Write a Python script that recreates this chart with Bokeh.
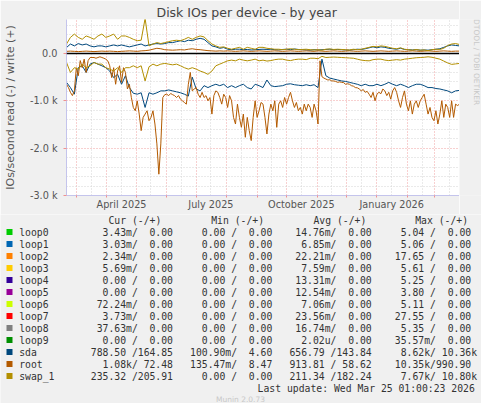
import re
import math
import pandas as pd
from bokeh.plotting import figure
from bokeh.layouts import column, row
from bokeh.models import FixedTicker, Span, Range1d
from bokeh.core.properties import value
from bokeh.embed import file_html
from bokeh.resources import INLINE

# ---------------- data ----------------
start = pd.Timestamp("2025-02-19")
end = pd.Timestamp("2026-03-26")
dates4 = pd.date_range(start, periods=101, freq="4D")   # sample times, 4-day step
dates2 = pd.date_range(start, periods=201, freq="2D")   # sample times, 2-day step

sda_read = [-610, -720, -860, -300, -260, -400, -225, -190, -225, -260,
            -300, -370, -510, -440, -650, -470, -720, -840, -860, -830,
            -1140, -830, -860, -830, -790, -790, -770, -790, -810, -830,
            -860, -900, -500, -750, -790, -680, -720, -680, -650, -680,
            -650, -720, -680, -720, -680, -650, -720, -750, -650, -680,
            -720, -560, -680, -700, -690, -680, -650, -640, -660, -670,
            -680, -660, -680, -660, -720, -120, -470, -520, -540, -560,
            -580, -590, -610, -630, -650, -680, -650, -680, -680, -650,
            -680, -650, -610, -650, -680, -650, -680, -720, -680, -650,
            -650, -680, -720, -720, -740, -750, -770, -790, -830, -790,
            -780]
sda_write = [125, 200, 160, 210, 180, 200, 160, 140, 160, 160,
             140, 160, 180, 160, 180, 160, 140, 160, 180, 200,
             160, 180, 200, 210, 200, 210, 230, 230, 250, 270,
             250, 280, 270, 300, 320, 300, 230, 160, 140, 110,
             125, 90, 80, 90, 90, 80, 85, 75, 80, 85,
             90, 85, 90, 80, 75, 85, 90, 80, 95, 85,
             80, 75, 70, 80, 75, 80, 85, 90, 80, 85,
             80, 75, 70, 80, 90, 85, 100, 120, 140, 120,
             140, 130, 110, 100, 90, 110, 85, 80, 75, 80,
             70, 75, 70, 80, 90, 100, 130, 160, 180, 170,
             160]
root_read = [-650, -720, -820, -890, -790, -300, -470, -150, -300, -120,
             -400, -150, -85, -85, -85, -100, -85, -70, -85, -100,
             -120, -155, -260, -510, -300, -650, -370, -260, -610, -300,
             -400, -750, -650, -930, -1140, -1210, -1000, -1280, -1630, -1350,
             -1280, -1210, -1420, -1350, -1210, -1490, -1910, -2550, -1910, -930,
             -870, -860, -890, -845, -870, -890, -930, -890, -965, -1000,
             -1035, -1070, -650, -400, -790, -750, -720, -860, -930, -820,
             -930, -890, -1000, -930, -1280, -890, -790, -820, -930, -1070,
             -860, -930, -1140, -890, -1000, -1350, -1490, -1070, -1350, -1560,
             -1280, -1770, -1350, -1630, -1840, -1350, -1000, -1350, -1210, -1035,
             -1070, -1350, -1700, -1280, -1070, -1210, -1000, -1560, -1070, -1000,
             -1140, -930, -1070, -930, -820, -1000, -1140, -1035, -1210, -1140,
             -1280, -1070, -1210, -1070, -1140, -1350, -1070, -1210, -1490, -155,
             -490, -520, -540, -560, -555, -580, -580, -590, -610, -600,
             -610, -615, -650, -640, -650, -680, -690, -720, -725, -750,
             -790, -760, -820, -800, -860, -930, -820, -1000, -860, -820,
             -850, -750, -790, -890, -820, -965, -790, -720, -820, -1000,
             -1140, -930, -790, -1070, -1210, -1000, -1280, -1070, -1000, -1140,
             -1000, -930, -860, -1070, -1280, -1140, -1350, -1420, -1210, -1490,
             -1280, -1000, -1350, -1070, -1140, -1350, -1000, -1350, -1070, -1100,
             -1070]
root_write = [45, 50, 45, 40, 45, 50, 45, 40, 45, 50,
              45, 50, 45, 40, 45, 50, 55, 50, 45, 55,
              60, 70, 90, 110, 100, 80, 75, 70, 75, 80,
              75, 90, 100, 85, 80, 70, 60, 55, 50, 55,
              50, 55, 50, 45, 50, 55, 50, 45, 50, 55,
              50, 45, 50, 55, 50, 45, 50, 55, 50, 45,
              50, 55, 50, 45, 55, 50, 45, 50, 55, 50,
              45, 50, 55, 50, 45, 50, 55, 50, 45, 50,
              55, 50, 45, 50, 55, 50, 45, 50, 55, 50,
              45, 50, 55, 50, 45, 50, 55, 50, 45, 50,
              50]
swap_read = [-190, -400, -300, -330, -225, -300, -260, -190, -225, -225,
             -300, -330, -370, -300, -400, -300, -300, -260, -300, -260,
             -580, -280, -225, -260, -225, -210, -225, -240, -225, -260,
             -300, -330, -300, -330, -370, -400, -440, -370, -260, -225,
             -190, -155, -140, -155, -120, -140, -155, -140, -120, -155,
             -140, -160, -150, -130, -120, -120, -140, -150, -130, -120,
             -120, -130, -100, -100, -110, -60, -85, -80, -75, -80,
             -85, -90, -95, -100, -120, -140, -150, -155, -130, -120,
             -120, -140, -150, -140, -130, -140, -120, -110, -100, -90,
             -85, -80, -70, -80, -100, -120, -160, -200, -230, -220,
             -210]
swap_write = [200, 340, 410, 340, 300, 370, 340, 300, 370, 410,
              340, 370, 410, 300, 370, 370, 340, 300, 270, 280,
              740, 160, 200, 230, 210, 230, 250, 270, 280, 270,
              300, 340, 300, 340, 370, 350, 270, 200, 160, 130,
              140, 110, 90, 110, 130, 90, 130, 110, 90, 130,
              130, 110, 100, 90, 90, 80, 90, 100, 90, 80,
              85, 90, 80, 75, 80, 70, 90, 95, 85, 90,
              85, 80, 75, 90, 80, 90, 110, 130, 150, 140,
              160, 150, 130, 110, 100, 120, 90, 80, 70, 85,
              70, 75, 60, 80, 90, 85, 110, 170, 200, 210,
              190]

names = ["loop0", "loop1", "loop2", "loop3", "loop4", "loop5", "loop6",
         "loop7", "loop8", "loop9", "sda", "root", "swap_1"]
colors = ["#00CC00", "#0066B3", "#FF8000", "#FFCC00", "#330099", "#990099",
          "#CCFF00", "#FF0000", "#808080", "#008F00", "#00487D", "#B35A00",
          "#B38F00"]
cur_vals = ["  3.43m/  0.00 ", "  3.03m/  0.00 ", "  2.34m/  0.00 ", "  5.69m/  0.00 ",
            "  0.00 /  0.00 ", "  0.00 /  0.00 ", " 72.24m/  0.00 ", "  3.73m/  0.00 ",
            " 37.63m/  0.00 ", "  0.00 /  0.00 ", "788.50 /164.85 ", "  1.08k/ 72.48 ",
            "235.32 /205.91 "]
min_vals = ["  0.00 /  0.00 "] * 10 + ["100.90m/  4.60 ", "135.47m/  8.47 ", "  0.00 /  0.00 "]
avg_vals = [" 14.76m/  0.00 ", "  6.85m/  0.00 ", " 22.21m/  0.00 ", "  7.59m/  0.00 ",
            " 13.31m/  0.00 ", " 12.54m/  0.00 ", "  7.06m/  0.00 ", " 23.56m/  0.00 ",
            " 16.74m/  0.00 ", "  2.02u/  0.00 ", "656.79 /143.84 ", "913.81 / 58.62 ",
            "211.34 /182.24 "]
max_vals = ["  5.04 /  0.00 ", "  5.06 /  0.00 ", " 17.65 /  0.00 ", "  5.61 /  0.00 ",
            "  5.25 /  0.00 ", "  3.80 /  0.00 ", "  5.11 /  0.00 ", " 27.55 /  0.00 ",
            "  5.35 /  0.00 ", " 35.57m/  0.00 ", "  8.62k/ 10.36k", " 10.35k/990.90 ",
            "  7.67k/ 10.80k"]
headers = ["Cur (-/+)", "Min (-/+)", "Avg (-/+)", "Max (-/+)"]
title_text = "Disk IOs per device - by year"
ylabel_text = "IOs/second read (-) / write (+)"
watermark_text = "RRDTOOL / TOBI OETIKER"
update_text = "Last update: Wed Mar 25 01:00:23 2026"
version_text = "Munin 2.0.73"

y_ticks = [0, -1000, -2000, -3000]
y_tick_labels = ["0.0", "-1.0 k", "-2.0 k", "-3.0 k"]
x_label_dates = ["2025-04-16", "2025-07-16", "2025-10-16", "2026-01-16"]
x_tick_labels = ["April 2025", "July 2025", "October 2025", "January 2026"]
month_starts = ["2025-03-01", "2025-04-01", "2025-05-01", "2025-06-01", "2025-07-01",
                "2025-08-01", "2025-09-01", "2025-10-01", "2025-11-01", "2025-12-01",
                "2026-01-01", "2026-02-01", "2026-03-01"]
mid_months = ["2025-03-16", "2025-04-16", "2025-05-16", "2025-06-16", "2025-07-16",
              "2025-08-16", "2025-09-16", "2025-10-16", "2025-11-16", "2025-12-16",
              "2026-01-16", "2026-02-16", "2026-03-16"]


def ms(d):
    return int(pd.Timestamp(d).value // 10**6)


BG = "#F0F0F0"
SANS = "DejaVu Sans"
MONO = "DejaVu Sans Mono"
CH = 214          # chart strip height
LH = 403 - CH     # legend strip height

# ---------------- chart ----------------
chart = figure(width=459, height=CH, x_axis_type="datetime",
               x_range=(start, end), y_range=(-3000, 718),
               output_backend="svg", toolbar_location=None,
               min_border_left=59, min_border_right=0,
               min_border_top=19, min_border_bottom=CH - 195)
chart.background_fill_color = "white"
chart.border_fill_color = BG
chart.outline_line_color = None

chart.title.text = title_text
chart.title.align = "left"
chart.title.offset = 90
chart.title.standoff = 0
chart.title.text_font = SANS
chart.title.text_font_size = "12.5px"
chart.title.text_font_style = "normal"
chart.title.text_color = "#444444"

chart.xaxis.ticker = FixedTicker(ticks=[ms(d) for d in x_label_dates],
                                 minor_ticks=[ms(d) for d in month_starts])
chart.xaxis.major_label_overrides = {ms(d): t for d, t in zip(x_label_dates, x_tick_labels)}
chart.xaxis.major_tick_line_color = None
chart.xaxis.major_tick_in = 0
chart.xaxis.major_tick_out = 0
chart.xaxis.minor_tick_line_color = "#F09090"
chart.xaxis.minor_tick_in = 0
chart.xaxis.minor_tick_out = 2
chart.xaxis.major_label_standoff = 1

minor_y = [v for v in range(-2800, 718, 200) if v % 1000 != 0]
chart.yaxis.ticker = FixedTicker(ticks=y_ticks, minor_ticks=minor_y)
chart.yaxis.major_label_overrides = {t: l for t, l in zip(y_ticks, y_tick_labels)}
chart.yaxis.major_tick_line_color = "#F09090"
chart.yaxis.major_tick_in = 0
chart.yaxis.major_tick_out = 3
chart.yaxis.minor_tick_line_color = None
chart.yaxis.major_label_standoff = 5
chart.yaxis.axis_label = ylabel_text
chart.yaxis.axis_label_standoff = 10
chart.yaxis.axis_label_text_font = SANS
chart.yaxis.axis_label_text_font_size = "11px"
chart.yaxis.axis_label_text_font_style = "normal"
chart.yaxis.axis_label_text_color = "#555555"

for ax in (chart.xaxis, chart.yaxis):
    ax.axis_line_color = "#C4C4EC"
    ax.major_label_text_font = SANS
    ax.major_label_text_font_size = "9.7px"
    ax.major_label_text_color = "#555555"

chart.xgrid.ticker = FixedTicker(ticks=[ms(d) for d in month_starts],
                                 minor_ticks=[ms(d) for d in mid_months])
for g in (chart.xgrid, chart.ygrid):
    g.grid_line_color = "#F0A0A0"
    g.grid_line_dash = "1 2"
    g.minor_grid_line_color = "#D4D4D4"
    g.minor_grid_line_dash = "1 2"

chart.line(dates4, sda_read, line_color="#00487D", line_width=1)
chart.line(dates4, sda_write, line_color="#00487D", line_width=1)
chart.line(dates2, root_read, line_color="#B35A00", line_width=1)
chart.line(dates4, root_write, line_color="#B35A00", line_width=1)
chart.line(dates4, swap_read, line_color="#B38F00", line_width=1)
chart.line(dates4, swap_write, line_color="#B38F00", line_width=1)
chart.add_layout(Span(location=0, dimension="width", line_color="black", line_width=1.3))

# ---------------- watermark strip (pixel coordinates) ----------------
wm = figure(width=22, height=CH, x_range=Range1d(0, 22), y_range=Range1d(0, CH),
            output_backend="svg", toolbar_location=None, title=None,
            x_axis_location=None, y_axis_location=None, min_border=0)
wm.grid.visible = False
wm.outline_line_color = None
wm.background_fill_color = BG
wm.border_fill_color = BG
wm.text(x=[17], y=[CH - 45.5], text=[watermark_text], angle=-math.pi / 2,
        text_align="center", text_baseline="middle", text_font=value(SANS),
        text_font_size="7.5px", text_color="#C8C8C8")

# ---------------- legend area (pixel coordinates) ----------------
leg = figure(width=481, height=LH, x_range=Range1d(0, 481), y_range=Range1d(0, LH),
             output_backend="svg", toolbar_location=None, title=None,
             x_axis_location=None, y_axis_location=None, min_border=0)
leg.grid.visible = False
leg.outline_line_color = None
leg.background_fill_color = BG
leg.border_fill_color = BG


def X(rx):
    return rx - 8


def Y(ry):
    return 411 - ry


CW = 5.87
header_x = [116, 218.7, 321, 422.7]
field_x = [98.3, 197.6, 297.0, 396.5]

tx, ty, tt = [], [], []
for hx, h in zip(header_x, headers):
    tx.append(X(hx)); ty.append(Y(228.2)); tt.append(h)

sq_x, sq_y = [], []
for i, n in enumerate(names):
    ry = 239.5 + 12 * i
    sq_x.append(X(17)); sq_y.append(Y(ry))
    tx.append(X(26.7)); ty.append(Y(ry)); tt.append(n)
    for fx, s in zip(field_x, (cur_vals[i], min_vals[i], avg_vals[i], max_vals[i])):
        for m in re.finditer(r"\S+", s):
            tx.append(X(fx + m.start() * CW)); ty.append(Y(ry)); tt.append(m.group(0))

leg.rect(x=sq_x, y=sq_y, width=6, height=6, fill_color=colors, line_color=None)
leg.text(x=tx, y=ty, text=tt, text_align="left", text_baseline="middle",
         text_font=value(MONO), text_font_size="9.75px", text_color="#333333")
leg.text(x=[X(482.3)], y=[Y(396)], text=[update_text], text_align="right",
         text_baseline="middle", text_font=value(MONO), text_font_size="9.75px",
         text_color="#333333")
leg.text(x=[X(248)], y=[Y(406.5)], text=[version_text], text_align="center",
         text_baseline="middle", text_font=value(SANS), text_font_size="7.5px",
         text_color="#C8C8C8")

layout = column(row(chart, wm), leg)
open("out.html", "w").write(file_html(layout, INLINE))
